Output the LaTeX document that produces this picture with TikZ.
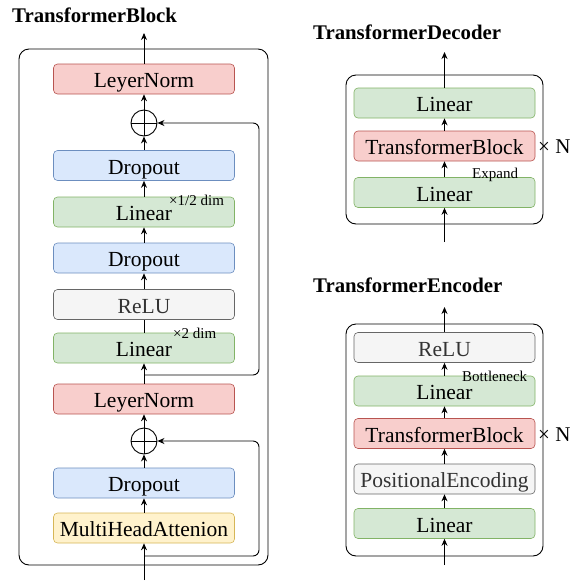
\documentclass[tikz,border=0pt]{standalone}
\usepackage{fontspec}
\setmainfont{Liberation Serif}
\usetikzlibrary{arrows.meta}
\definecolor{redF}{HTML}{F8CECC}\definecolor{redD}{HTML}{B85450}
\definecolor{bluF}{HTML}{DAE8FC}\definecolor{bluD}{HTML}{6C8EBF}
\definecolor{grnF}{HTML}{D5E8D4}\definecolor{grnD}{HTML}{82B366}
\definecolor{gryF}{HTML}{F5F5F5}\definecolor{gryD}{HTML}{666666}\definecolor{gryT}{HTML}{333333}
\definecolor{yelF}{HTML}{FFF2CC}\definecolor{yelD}{HTML}{D6B656}
\tikzset{
  blk/.style={rectangle, rounded corners=4pt, minimum width=181pt, minimum height=30pt, inner sep=0pt, text height=18.5pt, text depth=1.5pt, line width=0.6pt, font=\fontsize{21.5}{21.5}\selectfont},
  redb/.style={blk, fill=redF, draw=redD},
  blub/.style={blk, fill=bluF, draw=bluD},
  grnb/.style={blk, fill=grnF, draw=grnD},
  gryb/.style={blk, fill=gryF, draw=gryD, text=gryT},
  yelb/.style={blk, fill=yelF, draw=yelD},
  plusnode/.style={circle, draw, line width=0.9pt, minimum size=26pt, inner sep=0pt,
    path picture={\draw[line width=0.9pt] (path picture bounding box.north) -- (path picture bounding box.south) (path picture bounding box.west) -- (path picture bounding box.east);}},
  arr/.style={line width=0.9pt, -{Stealth[length=7pt,width=6pt]}},
  ln/.style={line width=0.9pt},
  frame/.style={draw, line width=0.9pt, rounded corners=10pt},
  ttl/.style={anchor=west, inner sep=0pt, font=\fontsize{20.8}{20.8}\selectfont\bfseries},
  small/.style={anchor=west, inner sep=0pt, font=\fontsize{15}{15}\selectfont},
  times/.style={anchor=west, inner sep=0pt, font=\fontsize{21}{21}\selectfont},
}
\begin{document}
\begin{tikzpicture}[x=1pt,y=-1pt]
\useasboundingbox (0,0) rectangle (571,582);
% ---------- TransformerBlock ----------
\node[ttl] (t1) at (12,15) {TransformerBlock};
\draw[frame] (19,49) rectangle (268,565);
\node[redb] (ln1) at (144,79) {LeyerNorm};
\node[plusnode] (p1) at (144,123) {};
\node[blub] (do1) at (144,165.5) {Dropout};
\node[grnb] (lin1) at (144,212) {Linear};
\node[blub] (do2) at (144,258) {Dropout};
\node[gryb] (relu) at (144,304.5) {ReLU};
\node[grnb] (lin2) at (144,348) {Linear};
\node[redb] (ln2) at (144,399) {LeyerNorm};
\node[plusnode] (p2) at (144,441) {};
\node[blub] (do3) at (144,483) {Dropout};
\node[yelb] (mha) at (144,528) {MultiHeadAttenion};
\node[small] (lab1) at (169,200) {×1/2 dim};
\node[small] (lab2) at (173,333) {×2 dim};
\coordinate (out1) at (144,33);
\coordinate (in1) at (144,580);
\coordinate (s1) at (144,556);
\coordinate (s2) at (144,375);
\draw[arr] (ln1.north) -- (out1);
\draw[arr] (p1.north) -- (ln1.south);
\draw[arr] (do1.north) -- (p1.south);
\draw[arr] (lin1.north) -- (do1.south);
\draw[arr] (do2.north) -- (lin1.south);
\draw[arr] (relu.north) -- (do2.south);
\draw[ln] (lin2.north) -- (relu.south);
\draw[arr] (ln2.north) -- (lin2.south);
\draw[arr] (p2.north) -- (ln2.south);
\draw[arr] (do3.north) -- (p2.south);
\draw[arr] (mha.north) -- (do3.south);
\draw[arr] (in1) -- (mha.south);
\draw[arr, rounded corners=6pt] (s1) -- (259,556) -- (259,441) -- (p2.east);
\draw[arr, rounded corners=6pt] (s2) -- (259,375) -- (259,123) -- (p1.east);
% ---------- TransformerDecoder ----------
\node[ttl] (t2) at (313,32) {TransformerDecoder};
\draw[frame] (346,75) rectangle (543,224);
\node[grnb] (dlin2) at (444.5,103) {Linear};
\node[redb] (dtb) at (444.5,146) {TransformerBlock};
\node[grnb] (dlin1) at (444.5,192.5) {Linear};
\node[times] (dn) at (538,147) {× N};
\node[small] (dexp) at (472,175) {Expand};
\coordinate (dout) at (444.5,52);
\coordinate (din) at (444.5,242);
\draw[arr] (dlin2.north) -- (dout);
\draw[arr] (dtb.north) -- (dlin2.south);
\draw[arr] (dlin1.north) -- (dtb.south);
\draw[arr] (din) -- (dlin1.south);
% ---------- TransformerEncoder ----------
\node[ttl] (t3) at (313,285) {TransformerEncoder};
\draw[frame] (346,324) rectangle (543,556);
\node[gryb] (erelu) at (444.5,347.5) {ReLU};
\node[grnb] (elin2) at (444.5,391) {Linear};
\node[redb] (etb) at (444.5,433.5) {TransformerBlock};
\node[gryb] (epe) at (444.5,479) {PositionalEncoding};
\node[grnb] (elin1) at (444.5,523.5) {Linear};
\node[times] (en) at (538,435) {× N};
\node[small] (ebot) at (462,376) {Bottleneck};
\coordinate (eout) at (444.5,307);
\coordinate (ein) at (444.5,565);
\draw[arr] (erelu.north) -- (eout);
\draw[arr] (elin2.north) -- (erelu.south);
\draw[arr] (etb.north) -- (elin2.south);
\draw[arr] (epe.north) -- (etb.south);
\draw[arr] (elin1.north) -- (epe.south);
\draw[arr] (ein) -- (elin1.south);
\end{tikzpicture}
\end{document}
